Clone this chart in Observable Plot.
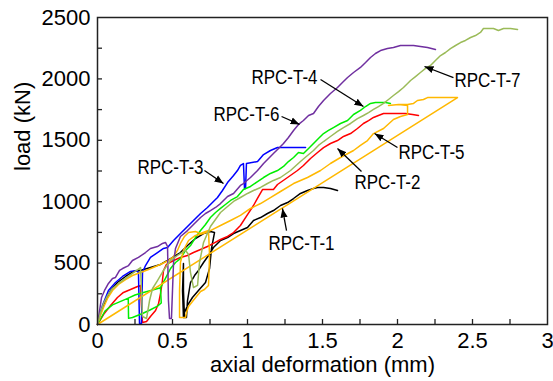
<!DOCTYPE html>
<html><head><meta charset="utf-8">
<script src="https://cdn.jsdelivr.net/npm/d3@7"></script>
<script src="https://cdn.jsdelivr.net/npm/@observablehq/plot@0.6"></script>
<style>body{margin:0;background:#fff}</style>
</head><body><div id="chart"></div>
<script>
// ---- data (axial deformation in mm, load in kN) ----
const seriesNames = ["RPC-T-1","RPC-T-2","RPC-T-3","RPC-T-4","RPC-T-5","RPC-T-6","RPC-T-7"];

const t1x = [0,0.02,0.053,0.087,0.133,0.187,0.24,0.287,0.353,0.42,0.487,0.553,0.6,0.653,0.707,0.753,0.78,0.76,0.747,0.72,0.673,0.633,0.6,0.58,0.573,0.567,0.573,0.573,0.58,0.593,0.6,0.62,0.647,0.673,0.707,0.74,0.773,0.8,0.82,0.867,0.907,0.953,1.0,1.04,1.087,1.133,1.173,1.22,1.267,1.307,1.353,1.4,1.44,1.467,1.507,1.553,1.6];
const t1y = [0,98,195,277,342,391,432,440,464,489,537,586,643,700,741,757,749,619,456,342,277,220,155,98,57,277,497,277,57,57,195,342,399,440,505,562,627,660,684,708,741,765,790,847,871,904,928,969,993,1026,1067,1091,1107,1116,1116,1107,1091];

const t2x = [0,0.04,0.087,0.133,0.173,0.22,0.267,0.287,0.293,0.3,0.327,0.353,0.387,0.407,0.42,0.433,0.44,0.46,0.507,0.553,0.6,0.64,0.687,0.733,0.773,0.82,0.867,0.907,0.953,1.0,1.04,1.073,1.1,1.173,1.2,1.267,1.333,1.373,1.42,1.467,1.507,1.553,1.6,1.64,1.687,1.733,1.773,1.807,1.84,1.873,1.907,1.953,2.0,2.053,2.1,2.14];
const t2y = [0,81,155,220,261,285,309,318,155,16,24,65,114,171,252,358,440,489,521,546,562,586,611,635,660,692,717,749,806,895,969,1042,1099,1099,1140,1197,1254,1295,1352,1401,1441,1474,1498,1531,1555,1596,1637,1661,1686,1702,1718,1718,1718,1718,1710,1702];

const t3x = [0,0.033,0.073,0.12,0.167,0.22,0.26,0.273,0.28,0.293,0.3,0.32,0.353,0.4,0.44,0.467,0.507,0.553,0.6,0.64,0.687,0.733,0.773,0.8,0.833,0.867,0.907,0.933,0.953,0.973,0.98,0.987,0.993,1.067,1.107,1.153,1.2,1.387];
const t3y = [0,155,277,342,391,432,440,423,8,8,423,480,546,586,619,627,684,741,798,847,904,953,1002,1034,1091,1156,1213,1254,1295,1311,1107,1107,1311,1327,1384,1417,1441,1441];

const t4x = [0,0.05,0.1,0.205,0.25,0.3,0.35,0.42,0.425,0.4,0.35,0.3,0.233,0.207,0.205,0.25,0.3,0.35,0.42,0.453,0.487,0.52,0.553,0.587,0.62,0.653,0.687,0.72,0.753,0.787,0.82,0.853,0.887,0.933,0.973,1.02,1.067,1.107,1.153,1.2,1.24,1.273,1.307,1.34,1.373,1.407,1.44,1.473,1.507,1.54,1.573,1.62,1.667,1.707,1.753,1.787,1.82,1.853,1.887,1.92,1.953];
const t4y = [0,110,160,215,240,258,275,300,175,150,118,90,57,50,215,240,258,275,300,375,456,505,537,603,643,708,765,814,871,912,945,977,1010,1042,1099,1124,1164,1197,1230,1254,1287,1327,1360,1401,1392,1433,1474,1515,1555,1580,1604,1637,1661,1710,1743,1775,1800,1808,1808,1808,1800];

const t5x = [0,0.02,0.04,0.067,0.1,0.14,0.187,0.233,0.287,0.34,0.387,0.433,0.473,0.507,0.533,0.553,0.58,0.607,0.653,0.687,0.72,0.74,0.747,0.74,0.713,0.687,0.66,0.633,0.607,0.593,0.587,0.547,0.547,0.553,0.573,0.607,0.653,0.707,0.753,0.82,0.887,0.953,1.02,1.087,1.153,1.22,1.307,1.4,1.487,1.553,1.62,1.707,1.753,1.8,1.84,1.907,1.973,2.02,2.067,2.067,2.007,1.94,2.007,2.067,2.107,2.133,2.173,2.2,2.267,2.333,2.4,0];
const t5y = [0,73,138,212,277,326,366,399,423,448,472,497,521,554,603,660,717,749,757,741,757,765,562,318,285,269,228,187,147,98,57,57,277,505,603,684,725,741,765,806,847,888,945,985,1034,1083,1148,1197,1254,1311,1360,1417,1458,1498,1555,1596,1669,1694,1710,1783,1791,1783,1791,1791,1800,1824,1832,1848,1848,1848,1848,0];

const t6x = [0,0.027,0.047,0.073,0.1,0.12,0.147,0.167,0.207,0.233,0.273,0.32,0.353,0.4,0.433,0.453,0.467,0.473,0.48,0.493,0.5,0.507,0.52,0.553,0.6,0.64,0.687,0.72,0.753,0.787,0.82,0.867,0.907,0.953,0.973,1.02,1.067,1.107,1.14,1.173,1.207,1.24,1.273,1.307,1.34,1.373,1.407,1.44,1.473,1.507,1.553,1.6,1.633,1.667,1.707,1.753,1.787,1.82,1.853,1.887,1.933,1.973,2.02,2.067,2.107,2.153,2.2,2.253];
const t6y = [0,220,277,334,375,383,440,456,480,521,546,586,619,635,660,668,635,195,49,49,277,505,619,717,765,814,871,904,928,953,985,1042,1067,1132,1148,1197,1254,1311,1352,1392,1433,1474,1523,1580,1629,1661,1702,1718,1775,1824,1881,1930,1971,2011,2052,2093,2133,2174,2207,2231,2247,2256,2272,2272,2272,2264,2256,2239];

const t7x = [0,0.02,0.04,0.067,0.1,0.14,0.187,0.24,0.287,0.293,0.3,0.327,0.347,0.367,0.4,0.44,0.487,0.533,0.587,0.607,0.62,0.64,0.667,0.68,0.707,0.753,0.82,0.867,0.907,0.953,1.0,1.04,1.087,1.133,1.173,1.22,1.287,1.353,1.4,1.44,1.473,1.507,1.553,1.6,1.64,1.687,1.733,1.773,1.807,1.84,1.873,1.907,1.94,1.973,2.007,2.04,2.067,2.087,2.12,2.153,2.187,2.22,2.253,2.287,2.32,2.353,2.387,2.42,2.453,2.487,2.52,2.553,2.573,2.607,2.64,2.673,2.707,2.753,2.8];
const t7y = [0,98,171,236,293,334,375,423,464,277,65,49,195,293,358,440,521,562,603,570,423,301,318,505,668,798,912,961,1002,1034,1067,1091,1116,1148,1173,1197,1254,1327,1376,1417,1458,1490,1531,1572,1604,1637,1677,1702,1726,1751,1775,1800,1832,1865,1897,1930,1962,1987,2019,2052,2085,2109,2150,2190,2215,2247,2272,2296,2313,2337,2353,2378,2410,2410,2410,2394,2410,2410,2402];

const seriesX = [t1x,t2x,t3x,t4x,t5x,t6x,t7x];
const seriesY = [t1y,t2y,t3y,t4y,t5y,t6y,t7y];

// annotation labels and arrows
const labelText = ["RPC-T-1","RPC-T-2","RPC-T-3","RPC-T-4","RPC-T-5","RPC-T-6","RPC-T-7"];
const labelX = [1.36,1.933,0.487,1.247,2.227,0.993,2.6];
const labelY = [660,1156,1278,2011,1401,1710,1987];
const arrowX1 = [1.26,1.76,0.713,1.487,2.0,1.227,2.373];
const arrowY1 = [765,1246,1254,1995,1441,1694,2011];
const arrowX2 = [1.233,1.6,0.84,1.773,1.847,1.347,2.18];
const arrowY2 = [945,1433,1148,1775,1555,1629,2101];

// tick values
const xTicks = [0,0.5,1,1.5,2,2.5,3];
const yTicks = [0,500,1000,1500,2000,2500];
const xMinor = [0.25,0.5,0.75,1,1.25,1.5,1.75,2,2.25,2.5,2.75];
const yMinor = [250,500,750,1000,1250,1500,1750,2000,2250];

// ---- build tables ----
const rows = [];
seriesNames.forEach((name, i) => {
  seriesX[i].forEach((x, j) => rows.push({series: name, x, y: seriesY[i][j]}));
});
const labels = labelText.map((t, i) => ({t, x: labelX[i], y: labelY[i]}));
const arrows = labelText.map((t, i) => ({x1: arrowX1[i], y1: arrowY1[i], x2: arrowX2[i], y2: arrowY2[i]}));

function filledArrow(color) {
  return d3.create("svg:marker")
    .attr("viewBox", "-9 -5 10 10")
    .attr("markerWidth", 10).attr("markerHeight", 10)
    .attr("markerUnits", "userSpaceOnUse")
    .attr("orient", "auto")
    .attr("fill", "#000").attr("stroke", "none")
    .call(m => m.append("path").attr("d", "M-9,-3.6L0,0L-9,3.6Z"))
    .node();
}

const chart = Plot.plot({
  width: 553, height: 381,
  marginLeft: 97, marginRight: 6, marginTop: 17, marginBottom: 57,
  style: {fontFamily: "'Liberation Sans', Arial, sans-serif", fontSize: "22px", color: "#000", background: "#fff"},
  x: {domain: [0, 3]},
  y: {domain: [0, 2500]},
  color: {domain: seriesNames, range: ["#000000","#ff0000","#0000ff","#00ee00","#ffb800","#7030a0","#9bbb59"]},
  marks: [
    Plot.line(rows, {x: "x", y: "y", z: "series", stroke: "series", strokeWidth: 1.5, strokeLinejoin: "round"}),
    Plot.tickX(xMinor, {x: d => d, insetTop: 302, stroke: "#222", strokeWidth: 1.3}),
    Plot.tickY(yMinor, {y: d => d, insetRight: 445, stroke: "#222", strokeWidth: 1.3}),
    Plot.axisX({ticks: xTicks, tickSize: 0, tickPadding: 8, tickFormat: d => String(d), label: null}),
    Plot.axisY({ticks: yTicks, tickSize: 0, tickPadding: 7, tickFormat: d => String(d), label: null}),
    Plot.frame({stroke: "#222", strokeWidth: 1.5}),
    Plot.link(arrows, {x1: "x1", y1: "y1", x2: "x2", y2: "y2", stroke: "#000", strokeWidth: 1.3, markerEnd: filledArrow}),
    Plot.text(labels, {x: "x", y: "y", text: "t", fontSize: 20, fill: "#000", className: "annot"}),
    Plot.text(["axial deformation (mm)"], {text: d => d, frameAnchor: "bottom", dy: 47, fontSize: 22, fill: "#000"}),
    Plot.text(["load (kN)"], {text: d => d, frameAnchor: "left", dx: -75, rotate: -90, fontSize: 22, fill: "#000"})
  ]
});
// condense the annotation labels to the narrow face used in the original
d3.select(chart).selectAll("g.annot text")
  .attr("textLength", 66).attr("lengthAdjust", "spacingAndGlyphs");
document.getElementById("chart").appendChild(chart);
</script>
</body></html>
